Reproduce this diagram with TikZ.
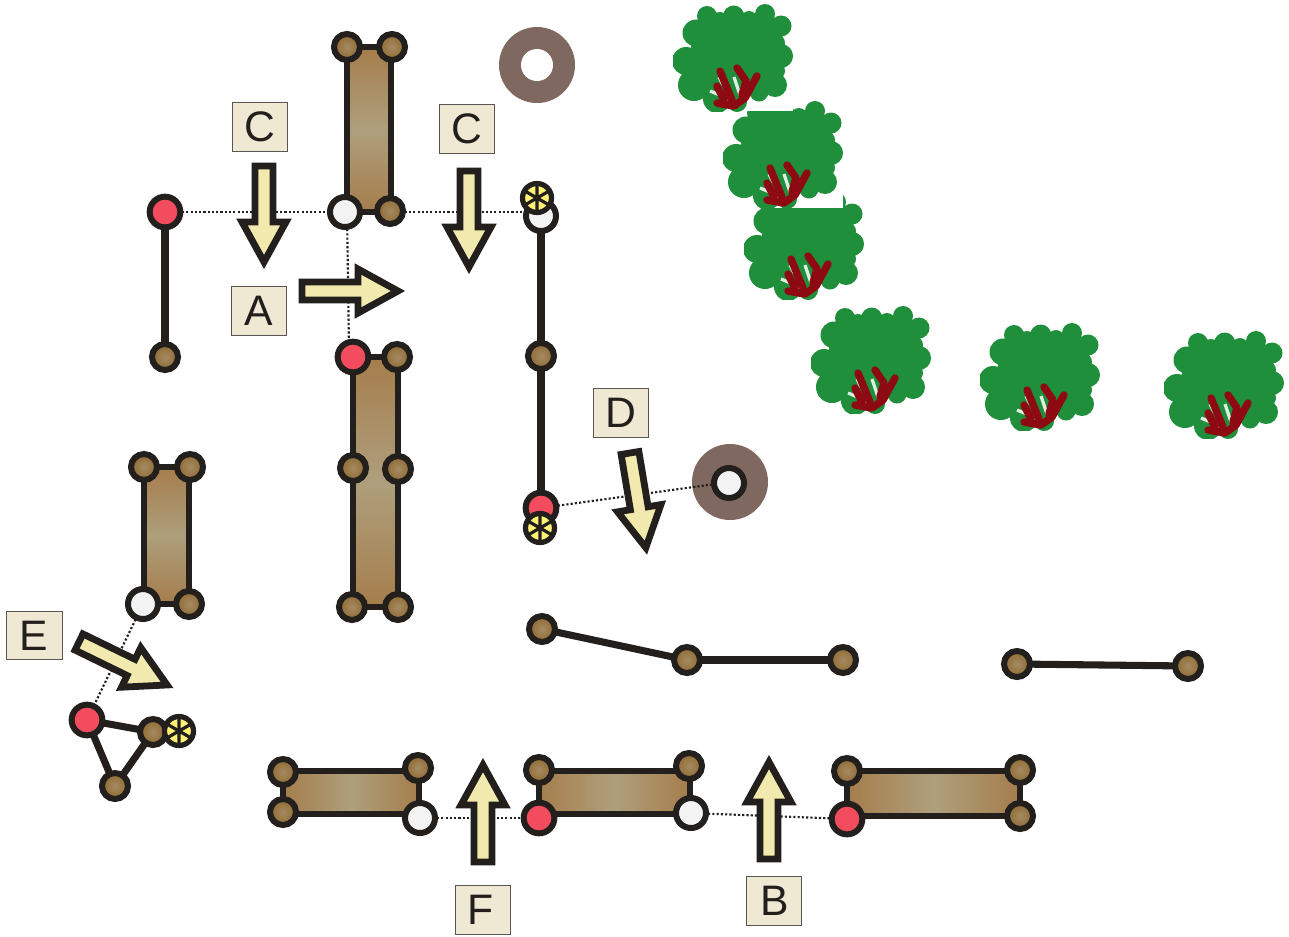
\documentclass[tikz,border=0pt]{standalone}
\usepackage{fontspec}
\setmainfont{Liberation Sans}
\definecolor{ink}{HTML}{221F1C}
\definecolor{labelfill}{HTML}{EFE9D3}
\definecolor{arrowfill}{HTML}{F1E9AE}
\definecolor{ringcol}{HTML}{7F685F}
\definecolor{barend}{HTML}{A57D4C}
\definecolor{barmid}{HTML}{AE9F7C}
\definecolor{jointout}{HTML}{8E6A32}
\definecolor{jointin}{HTML}{A68A62}
\definecolor{jointred}{HTML}{F24C5E}
\definecolor{jointwhite}{HTML}{F3F3F3}
\definecolor{jointyellow}{HTML}{FFF176}
\definecolor{treegreen}{HTML}{1F8F3B}
\definecolor{treered}{HTML}{8E0A12}
\tikzset{
  joint/.style={circle,draw=ink,line width=4.5pt,inner sep=0pt},
  brownj/.style={joint,minimum size=19.5pt,inner color=jointin,outer color=jointout},
  redj/.style={joint,minimum size=23pt,fill=jointred},
  whitej/.style={joint,minimum size=22.5pt,fill=jointwhite},
  starj/.style={joint,minimum size=21.75pt,fill=jointyellow,line width=3.9pt,
    path picture={
      \draw[ink,line width=2.4pt]
        ([shift={(90:16pt)}]path picture bounding box.center) -- ([shift={(-90:16pt)}]path picture bounding box.center)
        ([shift={(30:16pt)}]path picture bounding box.center) -- ([shift={(210:16pt)}]path picture bounding box.center)
        ([shift={(150:16pt)}]path picture bounding box.center) -- ([shift={(-30:16pt)}]path picture bounding box.center);
    }},
  labelbox/.style={rectangle,draw=ink!75,line width=0.8pt,fill=labelfill,minimum width=41.5pt,minimum height=36.5pt,inner sep=0pt,text=ink,font=\fontsize{32}{36}\selectfont},
  linkline/.style={draw=ink,line width=5.3pt},
  dotline/.style={draw=ink,line width=1.6pt,dash pattern=on 1.6pt off 1.6pt},
  barv/.style={draw=ink,line width=4.5pt,line join=miter,top color=barend,bottom color=barend,middle color=barmid},
  barh/.style={draw=ink,line width=4.5pt,line join=miter,left color=barend,right color=barend,middle color=barmid},
  ringdisc/.style={circle,fill=ringcol,minimum size=57pt,inner sep=0pt},
  ringhole/.style={circle,fill=white,minimum size=24pt,inner sep=0pt},
  bigarrow/.pic={
    \path[draw=ink,fill=arrowfill,line width=5.1pt,line join=miter,miter limit=10]
      (0,-9) -- (\pgfkeysvalueof{/tikz/arrowlen}-40,-9) -- (\pgfkeysvalueof{/tikz/arrowlen}-40,-22)
      -- (\pgfkeysvalueof{/tikz/arrowlen},0) -- (\pgfkeysvalueof{/tikz/arrowlen}-40,22)
      -- (\pgfkeysvalueof{/tikz/arrowlen}-40,9) -- (0,9) -- cycle;
  },
  arrowlen/.initial=97,
  tree/.pic={
    \fill[white] (0,0) rectangle (120,108);
    \begin{scope}
      \clip (0,0) rectangle (120,108);
      \fill[treegreen] (34,13) circle (10) (60.7,13) circle (10.5) (47,17) circle (8) (76,16) circle (8)
        (92,11) circle (10) (108,23) circle (10.5) (108,53) circle (12) (103,40) circle (9)
        (102,82) circle (12) (104,68) circle (8) (86,89) circle (9.5) (13,58) circle (14)
        (23,30) circle (13.5) (21,82) circle (16) (44,96) circle (14) (64,99) circle (10);
      \fill[treegreen] (34,13) -- (92,11) -- (108,23) -- (103,40) -- (108,53) -- (102,82) -- (64,99)
        -- (44,96) -- (21,82) -- (13,58) -- (23,30) -- cycle;
      \draw[white!85!treegreen,line width=2.4pt]
        (46,74) -- (50,82)
        (61,74) -- (67,92)
        (37,88) -- (49,93)
        (50,96) -- (58,100);
      \draw[treered,line width=5.6pt,line cap=round,line join=round]
        (44,100) -- (61,103) -- (72,95) -- (84,73)
        (69,92) -- (73,78) -- (64,65)
        (59,97) -- (47,68)
        (51,97) -- (44,83);
    \end{scope}
  }
}
\begin{document}
\begin{tikzpicture}[x=0.75pt,y=-0.75pt]
\useasboundingbox (0,0) rectangle (1289,936);

% trees
\pic at (744,191) {tree};
\pic at (723,100) {tree};
\pic at (673,3) {tree};
\pic at (811,305) {tree};
\pic at (980,322) {tree};
\pic at (1164,330) {tree};

% rings
\node[ringdisc] (ringa) at (537,65) {};
\node[ringhole] (holea) at (537,65) {};
\node[ringdisc] (ringb) at (730,482) {};

% joints (coordinates first, so that bars and links lie below)
\coordinate (la) at (165,212);
\coordinate (lb) at (165,357);
\coordinate (ta) at (347,47);
\coordinate (tb) at (392,47);
\coordinate (tc) at (345,212);
\coordinate (td) at (390,211);
\coordinate (ma) at (353,357);
\coordinate (mb) at (397,357);
\coordinate (mc) at (353,468);
\coordinate (md) at (398,469);
\coordinate (me) at (352,607);
\coordinate (mf) at (398,607);
\coordinate (sa) at (144,467);
\coordinate (sb) at (190,467);
\coordinate (sc) at (143,604);
\coordinate (sd) at (189,604);
\coordinate (tra) at (87,720);
\coordinate (trb) at (153,732);
\coordinate (trc) at (115,786);
\coordinate (pa) at (283,772);
\coordinate (pb) at (418,768);
\coordinate (pc) at (283,812);
\coordinate (pd) at (420,818);
\coordinate (qa) at (539,770);
\coordinate (qb) at (689,766);
\coordinate (qc) at (539,818);
\coordinate (qd) at (691,813);
\coordinate (ra) at (847,771);
\coordinate (rb) at (1020,770);
\coordinate (rc) at (847,819);
\coordinate (rd) at (1020,816);
\coordinate (va) at (541,216);
\coordinate (vb) at (541,356);
\coordinate (vc) at (541,508);
\coordinate (ha) at (542,629);
\coordinate (hb) at (687,660);
\coordinate (hc) at (843,660);
\coordinate (ka) at (1017,664);
\coordinate (kb) at (1188,666);
\coordinate (dota) at (540,212);
\coordinate (dotb) at (347,212);
\coordinate (dotc) at (349,350);

% dotted links
\draw[dotline] (la) -- (tc);
\draw[dotline] (tc) -- (dota);
\draw[dotline] (dotb) -- (dotc);
\draw[dotline] (vc) -- (ringb.center);
\draw[dotline] (sc) -- (tra);
\draw[dotline] (pd) -- (qc);
\draw[dotline] (qd) -- (rc);

% bars
\draw[barv] (347,47) rectangle (391,212);
\draw[barv] (353,357) rectangle (398,607);
\draw[barv] (144,467) rectangle (189,604);
\draw[barh] (283,771) rectangle (419,814);
\draw[barh] (539,771) rectangle (690,814);
\draw[barh] (847,771) rectangle (1020,816);

% solid links
\draw[linkline] (la) -- (lb);
\draw[linkline] (va) -- (vb);
\draw[linkline] (vb) -- (vc);
\draw[linkline] (ha) -- (hb);
\draw[linkline] (hb) -- (hc);
\draw[linkline] (ka) -- (kb);
\draw[linkline] (tra) -- (trb);
\draw[linkline] (trb) -- (trc);
\draw[linkline] (trc) -- (tra);

% joint nodes
\node[redj] (nla) at (la) {};
\node[brownj] (nlb) at (lb) {};
\node[brownj] (nta) at (ta) {};
\node[brownj] (ntb) at (tb) {};
\node[whitej] (ntc) at (tc) {};
\node[brownj] (ntd) at (td) {};
\node[redj] (nma) at (ma) {};
\node[brownj] (nmb) at (mb) {};
\node[brownj] (nmc) at (mc) {};
\node[brownj] (nmd) at (md) {};
\node[brownj] (nme) at (me) {};
\node[brownj] (nmf) at (mf) {};
\node[brownj] (nsa) at (sa) {};
\node[brownj] (nsb) at (sb) {};
\node[whitej] (nsc) at (sc) {};
\node[brownj] (nsd) at (sd) {};
\node[redj] (ntra) at (tra) {};
\node[brownj] (ntrb) at (trb) {};
\node[brownj] (ntrc) at (trc) {};
\node[starj] (ntrs) at (179,731) {};
\node[brownj] (npa) at (pa) {};
\node[brownj] (npb) at (pb) {};
\node[brownj] (npc) at (pc) {};
\node[whitej] (npd) at (pd) {};
\node[brownj] (nqa) at (qa) {};
\node[brownj] (nqb) at (qb) {};
\node[redj] (nqc) at (qc) {};
\node[whitej] (nqd) at (qd) {};
\node[brownj] (nra) at (ra) {};
\node[brownj] (nrb) at (rb) {};
\node[redj] (nrc) at (rc) {};
\node[brownj] (nrd) at (rd) {};
\node[whitej] (nva) at (va) {};
\node[starj] (nvs) at (537,198) {};
\node[brownj] (nvb) at (vb) {};
\node[redj] (nvc) at (vc) {};
\node[starj] (nvt) at (540,528) {};
\node[brownj] (nha) at (ha) {};
\node[brownj] (nhb) at (hb) {};
\node[brownj] (nhc) at (hc) {};
\node[brownj] (nka) at (ka) {};
\node[brownj] (nkb) at (kb) {};
\node[whitej] (ringbc) at (729,483) {};

% large arrows
\pic[rotate=-90,arrowlen=96] at (264,166) {bigarrow};
\pic[rotate=-90,arrowlen=96] at (469,171) {bigarrow};
\pic[rotate=0,arrowlen=96] at (302,291) {bigarrow};
\pic[rotate=-80.5,arrowlen=96] at (630,453) {bigarrow};
\pic[rotate=-26,arrowlen=98] at (79,642) {bigarrow};
\pic[rotate=90,arrowlen=97] at (483,862) {bigarrow};
\pic[rotate=90,arrowlen=97] at (769,859) {bigarrow};

% labels
\node[labelbox] (lc1) at (260,127) {C};
\node[labelbox] (lc2) at (467,129) {C};
\node[labelbox] (lA) at (259,311) {A};
\node[labelbox] (lD) at (621,413) {D};
\node[labelbox] (lE) at (34.5,635.5) {\kern-1pt E};
\node[labelbox] (lF) at (483,910) {\kern-4pt F};
\node[labelbox] (lB) at (774,901) {B\kern-1pt};
\end{tikzpicture}
\end{document}
